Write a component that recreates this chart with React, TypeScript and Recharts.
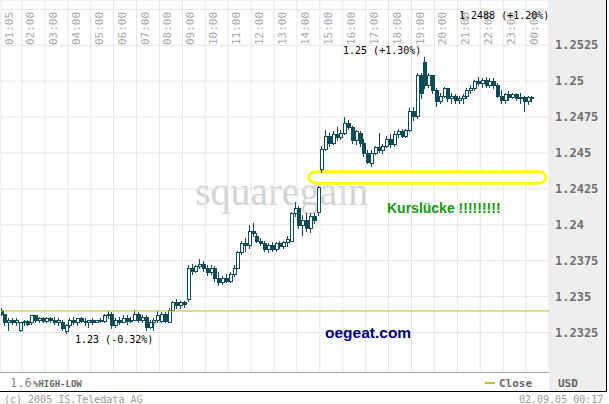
import React from "react";
import {
  ComposedChart,
  Bar,
  XAxis,
  YAxis,
  CartesianGrid,
  ReferenceLine,
  ReferenceArea,
} from "recharts";

// 10-minute candles, time in minutes after 01:00
const START_MIN = 5;
const STEP_MIN = 10;
const PREV_CLOSE = 1.234;

const OPEN = [
  1.2341, 1.2338, 1.2332, 1.2334, 1.2332, 1.2327, 1.2332, 1.2333, 1.2332, 1.2337,
  1.2334, 1.2335, 1.2333, 1.2335, 1.2334, 1.2332, 1.2332, 1.2326, 1.233, 1.2334,
  1.2332, 1.2335, 1.2333, 1.2332, 1.2334, 1.2332, 1.2334, 1.2333, 1.2337, 1.2338,
  1.233, 1.2334, 1.2332, 1.2335, 1.2333, 1.2334, 1.2338, 1.2334, 1.2336, 1.2329,
  1.2332, 1.2334, 1.2333, 1.2338, 1.2332, 1.2341, 1.2346, 1.2344, 1.2346, 1.2348,
  1.237, 1.2368, 1.2371, 1.2373, 1.237, 1.2367, 1.237, 1.2363, 1.236, 1.2363,
  1.2361, 1.2366, 1.237, 1.2381, 1.2387, 1.2386, 1.2396, 1.2392, 1.2389, 1.2387,
  1.2383, 1.2386, 1.2383, 1.2387, 1.2385, 1.2388, 1.2389, 1.2408, 1.2412, 1.24,
  1.2403, 1.2398, 1.2406, 1.2409, 1.2439, 1.2453, 1.2462, 1.2457, 1.2463, 1.2461,
  1.2464, 1.2471, 1.2468, 1.2459, 1.2464, 1.2457, 1.245, 1.2443, 1.245, 1.2454,
  1.2452, 1.2455, 1.246, 1.2456, 1.2463, 1.2465, 1.2462, 1.2466, 1.2479, 1.2476,
  1.2504, 1.2513, 1.2497, 1.2504, 1.2494, 1.2486, 1.249, 1.2495, 1.2488, 1.249,
  1.2487, 1.2488, 1.249, 1.2494, 1.2495, 1.25, 1.2499, 1.2501, 1.2497, 1.25,
  1.2497, 1.249, 1.2487, 1.2491, 1.2489, 1.2491, 1.2488, 1.2489, 1.2486, 1.2489,
];
const HIGH = [
  1.2342, 1.2338, 1.2335, 1.2335, 1.2335, 1.2332, 1.2334, 1.2334, 1.2337, 1.2337,
  1.2336, 1.2336, 1.2336, 1.2336, 1.2336, 1.2335, 1.2334, 1.2331, 1.2335, 1.2336,
  1.2335, 1.2336, 1.2335, 1.2334, 1.2335, 1.2334, 1.2335, 1.2338, 1.234, 1.2339,
  1.2335, 1.2336, 1.2337, 1.2337, 1.2336, 1.2341, 1.2339, 1.2337, 1.2337, 1.2334,
  1.2335, 1.234, 1.2339, 1.2339, 1.2342, 1.2347, 1.2348, 1.2347, 1.2347, 1.2372,
  1.2373, 1.2372, 1.2376, 1.2375, 1.2372, 1.2372, 1.2371, 1.2367, 1.2364, 1.2366,
  1.2367, 1.2372, 1.2382, 1.2389, 1.2391, 1.24, 1.2401, 1.2394, 1.2391, 1.2389,
  1.2387, 1.2388, 1.2388, 1.2389, 1.2389, 1.2392, 1.2409, 1.2416, 1.2413, 1.2407,
  1.2408, 1.2408, 1.2408, 1.2427, 1.2455, 1.2466, 1.2464, 1.2465, 1.2468, 1.2466,
  1.2475, 1.2473, 1.2469, 1.2466, 1.2465, 1.246, 1.2452, 1.2452, 1.2455, 1.2464,
  1.2456, 1.2462, 1.2463, 1.2465, 1.2467, 1.2467, 1.2467, 1.2481, 1.2482, 1.2506,
  1.2506, 1.2517, 1.2506, 1.2504, 1.2495, 1.2492, 1.2496, 1.2495, 1.2492, 1.2491,
  1.249, 1.2491, 1.2495, 1.2497, 1.2501, 1.2503, 1.2502, 1.2503, 1.2502, 1.2502,
  1.2499, 1.2494, 1.2492, 1.2493, 1.2492, 1.2492, 1.2492, 1.249, 1.249, 1.249,
];
const LOW = [
  1.2337, 1.233, 1.2327, 1.2331, 1.233, 1.2326, 1.233, 1.233, 1.2331, 1.2332,
  1.2332, 1.2332, 1.2332, 1.2332, 1.2331, 1.233, 1.2327, 1.2325, 1.2329, 1.2331,
  1.233, 1.2332, 1.233, 1.2329, 1.2331, 1.2332, 1.2332, 1.2332, 1.2335, 1.2328,
  1.2329, 1.2331, 1.2332, 1.2331, 1.2332, 1.2334, 1.2332, 1.2332, 1.2327, 1.2328,
  1.2327, 1.2332, 1.2332, 1.2332, 1.2332, 1.2341, 1.2342, 1.2342, 1.2343, 1.2347,
  1.2366, 1.2367, 1.237, 1.2368, 1.2365, 1.2366, 1.2361, 1.2358, 1.2359, 1.236,
  1.236, 1.2364, 1.237, 1.238, 1.2382, 1.2384, 1.2392, 1.2388, 1.2386, 1.2382,
  1.2381, 1.2382, 1.2382, 1.2384, 1.2384, 1.2385, 1.2389, 1.2406, 1.2398, 1.2393,
  1.2396, 1.2395, 1.2401, 1.2407, 1.2437, 1.2452, 1.2455, 1.2456, 1.2459, 1.246,
  1.2463, 1.2467, 1.2457, 1.2456, 1.2455, 1.2448, 1.2443, 1.2441, 1.2449, 1.2451,
  1.245, 1.2454, 1.2454, 1.2455, 1.2461, 1.2461, 1.2461, 1.2465, 1.2473, 1.2474,
  1.2488, 1.2495, 1.2496, 1.2492, 1.2483, 1.2485, 1.2489, 1.2486, 1.2485, 1.2485,
  1.2485, 1.2485, 1.2488, 1.2492, 1.2494, 1.2497, 1.2496, 1.2496, 1.2496, 1.2495,
  1.2489, 1.2485, 1.2485, 1.2487, 1.2488, 1.2487, 1.2485, 1.2479, 1.2484, 1.2486,
];
const CLOSE = [
  1.2338, 1.2332, 1.2334, 1.2332, 1.2334, 1.2332, 1.2333, 1.2331, 1.2337, 1.2334,
  1.2335, 1.2333, 1.2335, 1.2334, 1.2332, 1.2334, 1.2328, 1.233, 1.2334, 1.2332,
  1.2335, 1.2333, 1.2332, 1.2334, 1.2332, 1.2334, 1.2333, 1.2337, 1.2338, 1.233,
  1.2334, 1.2332, 1.2335, 1.2333, 1.2334, 1.2338, 1.2334, 1.2336, 1.2329, 1.2332,
  1.2334, 1.2337, 1.2338, 1.2333, 1.2341, 1.2346, 1.2344, 1.2346, 1.2345, 1.237,
  1.2368, 1.2371, 1.2373, 1.237, 1.2367, 1.237, 1.2363, 1.236, 1.2363, 1.2361,
  1.2366, 1.237, 1.2381, 1.2387, 1.2386, 1.2396, 1.2394, 1.2389, 1.2387, 1.2383,
  1.2386, 1.2383, 1.2387, 1.2385, 1.2388, 1.239, 1.2408, 1.2412, 1.24, 1.2403,
  1.2398, 1.2406, 1.2403, 1.2426, 1.2453, 1.2462, 1.2457, 1.2463, 1.2461, 1.2464,
  1.2471, 1.2468, 1.2459, 1.2465, 1.2457, 1.245, 1.2444, 1.245, 1.2454, 1.2452,
  1.2455, 1.246, 1.2456, 1.2463, 1.2465, 1.2462, 1.2466, 1.2479, 1.2476, 1.2504,
  1.2492, 1.2497, 1.2504, 1.2494, 1.2486, 1.249, 1.2495, 1.2488, 1.249, 1.2487,
  1.2488, 1.249, 1.2494, 1.2495, 1.25, 1.2499, 1.2501, 1.2497, 1.25, 1.2497,
  1.249, 1.2487, 1.2491, 1.2489, 1.2491, 1.2488, 1.2489, 1.2486, 1.2489, 1.2488,
];

const HOUR_TICKS = [
  5, 60, 120, 180, 240, 300, 360, 420, 480, 540, 600, 660, 720, 780, 840, 900,
  960, 1020, 1080, 1140, 1200, 1260, 1320, 1380,
];
const HOUR_LABELS = [
  "01:05", "02:00", "03:00", "04:00", "05:00", "06:00", "07:00", "08:00",
  "09:00", "10:00", "11:00", "12:00", "13:00", "14:00", "15:00", "16:00",
  "17:00", "18:00", "19:00", "20:00", "21:00", "22:00", "23:00", "00:00",
];
// 1.255 only gets a grid line, its label would sit under the time labels
const PRICE_TICKS = [
  1.2325, 1.235, 1.2375, 1.24, 1.2425, 1.245, 1.2475, 1.25, 1.2525, 1.255,
];
const PRICE_DOMAIN = [1.22975, 1.25565];

const HIGH_PCT = "+1.30%";
const LAST_PCT = "+1.20%";
const LOW_PCT = "-0.32%";

const CANDLE = "#0e4b56";
const MONO = "'DejaVu Sans Mono', monospace";

const rows = OPEN.map((open, i) => ({
  t: START_MIN + i * STEP_MIN,
  open,
  high: HIGH[i],
  low: LOW[i],
  close: CLOSE[i],
  range: [LOW[i], HIGH[i]],
}));

const dayHigh = Math.max(...HIGH);
const dayLow = Math.min(...LOW);
const lastClose = CLOSE[CLOSE.length - 1];

function Candle(props: any) {
  const { x, y, width, height, payload } = props;
  if (x == null || y == null || !payload) return null;
  const { open, close, high, low } = payload;
  const top = Math.min(y, y + height);
  const h = Math.abs(height);
  const span = high - low;
  const py = (v: number) => (span > 0 ? top + ((high - v) / span) * h : top);
  const cx = Math.round(x + width / 2);
  const up = close >= open;
  const bTop = Math.round(py(Math.max(open, close)));
  const bBot = Math.round(py(Math.min(open, close)));
  return (
    <g>
      <line
        x1={cx + 0.5}
        x2={cx + 0.5}
        y1={Math.round(top)}
        y2={Math.round(top + h) + 1}
        stroke={CANDLE}
      />
      <rect
        x={cx - 0.5}
        y={bTop + 0.5}
        width={3}
        height={Math.max(bBot - bTop, 1)}
        fill={up ? "#ffffff" : CANDLE}
        stroke={CANDLE}
      />
    </g>
  );
}

function HourTick(props: any) {
  const { x, payload } = props;
  const label = HOUR_LABELS[HOUR_TICKS.indexOf(payload.value)];
  const bx = x + 12;
  return (
    <text
      x={bx}
      y={45}
      transform={`rotate(-90 ${bx} 45)`}
      fill="#aaaaaa"
      fontSize={11}
      fontFamily={MONO}
    >
      {label}
    </text>
  );
}

function PriceTick(props: any) {
  const { y, payload } = props;
  if (payload.value > 1.253) return null;
  return (
    <text
      x={555}
      y={y + 4}
      fill="#707070"
      fontSize={12}
      fontWeight="bold"
      fontFamily={MONO}
    >
      {String(Number(payload.value.toFixed(4)))}
    </text>
  );
}

function Note({ left, top, size, color, bold, family, children }: any) {
  return (
    <div
      style={{
        position: "absolute",
        left,
        top,
        fontSize: size,
        lineHeight: 1,
        color,
        fontWeight: bold ? "bold" : "normal",
        fontFamily: family ?? MONO,
        whiteSpace: "nowrap",
      }}
    >
      {children}
    </div>
  );
}

export default function App() {
  return (
    <div
      style={{
        position: "absolute",
        left: 0,
        top: 0,
        width: 609,
        height: 404,
        background: "#ffffff",
        overflow: "hidden",
      }}
    >
      {/* price scale panel */}
      <div
        style={{
          position: "absolute",
          left: 549,
          top: 0,
          width: 57,
          height: 391,
          background: "#eeeeee",
          borderRight: "1px solid #000",
        }}
      />
      <Note left={195} top={172} size={40} color="#d4d4d4" family="'Liberation Serif', serif">
        squaregain
      </Note>

      <div style={{ position: "absolute", left: 0, top: 0 }}>
        <ComposedChart
          width={609}
          height={392}
          data={rows}
          margin={{ top: 0, right: 0, bottom: 20, left: 1 }}
        >
          <CartesianGrid stroke="#e6e6e6" />
          <XAxis
            dataKey="t"
            type="number"
            orientation="top"
            mirror
            domain={[5, 1440]}
            ticks={HOUR_TICKS}
            interval={0}
            height={45}
            axisLine={false}
            tickLine={false}
            tick={<HourTick />}
            allowDataOverflow
          />
          <YAxis
            orientation="right"
            type="number"
            domain={PRICE_DOMAIN}
            ticks={PRICE_TICKS}
            interval={0}
            width={60}
            axisLine={false}
            tickLine={false}
            tick={<PriceTick />}
            allowDataOverflow
          />
          <ReferenceLine y={PREV_CLOSE} stroke="#bcc21c" strokeWidth={1} />
          <ReferenceArea
            x1={811}
            x2={1432}
            y1={1.2429}
            y2={1.2437}
            shape={(p: any) => (
              <rect
                x={p.x}
                y={p.y}
                width={p.width}
                height={p.height}
                rx={7}
                fill="#ffffff"
                stroke="#ffff00"
                strokeWidth={3}
              />
            )}
          />
          <Bar
            dataKey="range"
            barSize={3}
            shape={<Candle />}
            isAnimationActive={false}
          />
        </ComposedChart>
      </div>

      {/* frame lines */}
      <div style={{ position: "absolute", left: 0, top: 372, width: 549, height: 1, background: "#aaaaaa" }} />
      <div style={{ position: "absolute", left: 0, top: 391, width: 607, height: 1, background: "#000000" }} />

      <Note left={459} top={11} size={10} color="#000">
        {lastClose.toFixed(4)} ({LAST_PCT})
      </Note>
      <Note left={343} top={46} size={10} color="#000">
        {dayHigh.toFixed(2)} ({HIGH_PCT})
      </Note>
      <Note left={75} top={335} size={10} color="#000">
        {dayLow.toFixed(2)} ({LOW_PCT})
      </Note>
      <Note left={387} top={201} size={14} color="#139a13" bold family="'Liberation Sans', Arial, sans-serif">
        Kurslücke !!!!!!!!!
      </Note>
      <Note left={325} top={325} size={15.5} color="#00007a" bold family="'Liberation Sans', Arial, sans-serif">
        oegeat.com
      </Note>

      <Note left={10} top={377} size={12} color="#888">
        1.6
      </Note>
      <Note left={33} top={380} size={9} color="#666" bold>
        %HIGH-LOW
      </Note>
      <div style={{ position: "absolute", left: 485, top: 382, width: 10, height: 2, background: "#bcc21c" }} />
      <Note left={499} top={378} size={11} color="#666" bold>
        Close
      </Note>
      <Note left={558} top={378} size={11} color="#666" bold>
        USD
      </Note>
      <Note left={4} top={395} size={10} color="#999">
        (c) 2005 IS.Teledata AG
      </Note>
      <Note left={519} top={395} size={10} color="#999">
        02.09.05 00:17
      </Note>
    </div>
  );
}
